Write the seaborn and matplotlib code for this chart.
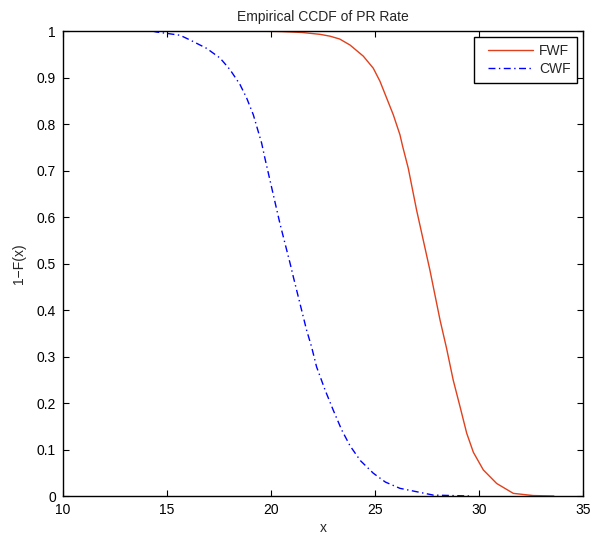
import matplotlib
matplotlib.use("Agg")
import matplotlib.pyplot as plt
from matplotlib.legend_handler import HandlerLine2D
import seaborn as sns
import pandas as pd

# Data
fwf_x = [19.2, 20.5, 21.5, 22.36, 22.84, 23.3, 23.8, 24.44, 24.92, 25.24, 25.56,
         25.88, 26.2, 26.33, 26.6, 27.0, 27.64, 28.13, 28.44, 28.76, 29.09,
         29.41, 29.73, 30.21, 30.85, 31.65, 32.6, 33.6]
fwf_y = [1.0, 0.999, 0.997, 0.993, 0.989, 0.983, 0.970, 0.946, 0.920, 0.892, 0.856,
         0.820, 0.777, 0.752, 0.705, 0.615, 0.486, 0.378, 0.318, 0.2495, 0.192,
         0.135, 0.094, 0.056, 0.027, 0.0057, 0.001, 0.0]

cwf_x = [14.3, 14.5, 15.0, 15.63, 16.1, 16.9, 17.55, 18.03, 18.51, 18.83,
         19.15, 19.55, 19.71, 20.07, 20.43, 20.92, 21.07, 21.71, 21.95, 22.19,
         22.6, 22.99, 23.4, 23.8, 24.3, 24.92, 25.5, 26.2, 27.8, 29.6]
cwf_y = [1.0, 0.998, 0.995, 0.991, 0.981, 0.963, 0.942, 0.917, 0.885, 0.856,
         0.82, 0.759, 0.726, 0.656, 0.586, 0.5, 0.472, 0.357, 0.321, 0.278,
         0.228, 0.185, 0.142, 0.108, 0.076, 0.049, 0.03, 0.0165, 0.002, 0.0]

x_ticks = [10, 15, 20, 25, 30, 35]
y_ticks = [0, 0.1, 0.2, 0.3, 0.4, 0.5, 0.6, 0.7, 0.8, 0.9, 1]
y_tick_labels = ["0", "0.1", "0.2", "0.3", "0.4", "0.5", "0.6", "0.7", "0.8", "0.9", "1"]

sns.set_theme(style="white")
plt.rcParams["font.family"] = ["Liberation Sans", "DejaVu Sans"]
plt.rcParams["axes.unicode_minus"] = True

fig = plt.figure(figsize=(6.10, 5.36), dpi=100)
ax = fig.add_axes([0.1033, 0.0746, 0.8524, 0.8674])

df_f = pd.DataFrame({"x": fwf_x, "y": fwf_y})
df_c = pd.DataFrame({"x": cwf_x, "y": cwf_y})

dashdot = [5, 2.5, 1, 2.5]

sns.lineplot(data=df_f, x="x", y="y", ax=ax, sort=False, estimator=None,
             color="#e0401c", linewidth=1.0, label="FWF")
sns.lineplot(data=df_c, x="x", y="y", ax=ax, sort=False, estimator=None,
             color="#0000ff", linewidth=1.0, label="CWF")
ax.lines[1].set_dashes(dashdot)

ax.set_xlim(10, 35)
ax.set_ylim(0, 1)
ax.set_xticks(x_ticks)
ax.set_xticklabels([str(t) for t in x_ticks])
ax.set_yticks(y_ticks)
ax.set_yticklabels(y_tick_labels)

for s in ax.spines.values():
    s.set_visible(True)
    s.set_color("black")
    s.set_linewidth(1.0)

ax.tick_params(axis="both", which="both", direction="in", length=4, width=0.8,
               colors="black", labelsize=10, top=True, right=True,
               bottom=True, left=True, pad=5)

ax.set_title("Empirical CCDF of PR Rate", fontsize=10, pad=7)
ax.set_xlabel("x", fontsize=10, labelpad=3)
ax.set_ylabel("1\u2212F(x)", fontsize=10, labelpad=8)

handles, labels = ax.get_legend_handles_labels()
leg = ax.legend(handles, labels, loc="upper right", fontsize=10, frameon=True,
                fancybox=False, edgecolor="black", framealpha=1,
                handlelength=3.75, borderaxespad=0.4, borderpad=0.5,
                labelspacing=0.3, handletextpad=0.4,
                handler_map={h: HandlerLine2D(xpad=0.5) for h in handles})
leg.get_frame().set_linewidth(1.0)
leg.get_lines()[1].set_dashes(dashdot)

fig.savefig("out.png", dpi=100)
